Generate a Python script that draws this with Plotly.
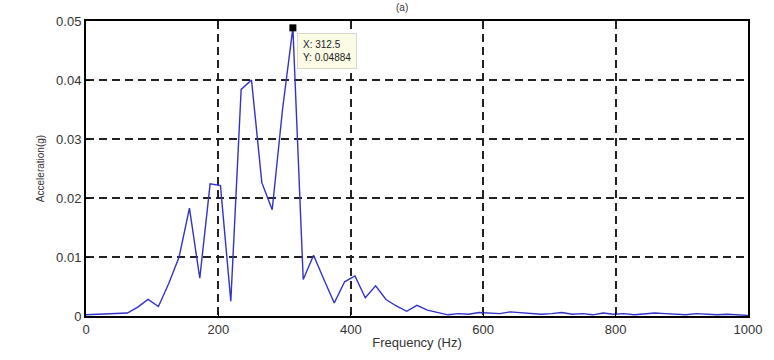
import plotly.graph_objects as go

freq_step = 15.625
accel = [
    0.0002, 0.0003, 0.0003, 0.0004, 0.0005, 0.0015, 0.0028, 0.0016,
    0.0055, 0.0100, 0.0183, 0.0064, 0.0224, 0.0221, 0.0025, 0.0384,
    0.0400, 0.0226, 0.0180, 0.0350, 0.04884, 0.0062, 0.0103, 0.0062,
    0.0022, 0.0058, 0.0068, 0.0031, 0.0051, 0.0028, 0.0017, 0.0008,
    0.0018, 0.0010, 0.0006, 0.0002, 0.0004, 0.0003, 0.0006, 0.0005,
    0.0004, 0.0007, 0.0006, 0.0004, 0.0003, 0.0004, 0.0006, 0.0003,
    0.0004, 0.0002, 0.0005, 0.0003, 0.0004, 0.0002, 0.0003, 0.0005,
    0.0004, 0.0003, 0.0002, 0.0004, 0.0003, 0.0002, 0.0003, 0.0002,
    0.0001,
]
freq = [i * freq_step for i in range(len(accel))]

x_ticks = [0, 200, 400, 600, 800, 1000]
y_ticks = [0, 0.01, 0.02, 0.03, 0.04, 0.05]
y_tick_labels = ["0", "0.01", "0.02", "0.03", "0.04", "0.05"]

tip_x = 312.5
tip_y = 0.04884

font_family = "Liberation Sans, Arial, sans-serif"

fig = go.Figure()
fig.add_trace(go.Scatter(
    x=freq, y=accel, mode="lines",
    line=dict(color="rgb(50,50,200)", width=1.4),
    showlegend=False,
))
fig.add_trace(go.Scatter(
    x=[tip_x], y=[tip_y], mode="markers",
    marker=dict(symbol="square", color="black", size=7),
    showlegend=False,
))

fig.add_annotation(
    x=tip_x, y=tip_y, xref="x", yref="y",
    text="X: 312.5<br>Y: 0.04884", showarrow=False,
    xanchor="left", yanchor="top", xshift=4, yshift=-5, align="left",
    font=dict(family=font_family, size=10, color="#222"),
    bgcolor="#fbfbe6", bordercolor="#d8d8c8", borderwidth=1, borderpad=5,
)
fig.add_annotation(
    x=0.478, y=1.0702, xref="paper", yref="paper", text="(a)", showarrow=False,
    xanchor="center", yanchor="top",
    font=dict(family=font_family, size=10, color="#333"),
)

axis_common = dict(
    showline=True, linecolor="black", linewidth=2, mirror=True,
    ticks="inside", ticklen=4, tickcolor="black",
    showgrid=True, gridcolor="#222", gridwidth=1.5, griddash="8px,5px",
    zeroline=False,
    tickfont=dict(family=font_family, size=13, color="#333"),
)

fig.update_xaxes(
    range=[0, 1000], tickvals=x_ticks,
    title=dict(text="Frequency (Hz)", standoff=2,
               font=dict(family=font_family, size=13, color="#333")),
    **axis_common,
)
fig.update_yaxes(
    range=[0, 0.05], tickvals=y_ticks, ticktext=y_tick_labels,
    title=dict(text="Acceleration(g)", standoff=10,
               font=dict(family=font_family, size=10, color="#333")),
    **axis_common,
)

fig.update_layout(
    width=774, height=360,
    margin=dict(l=86, r=24, t=21, b=40),
    plot_bgcolor="white", paper_bgcolor="white",
)

fig.write_html("out.html")
